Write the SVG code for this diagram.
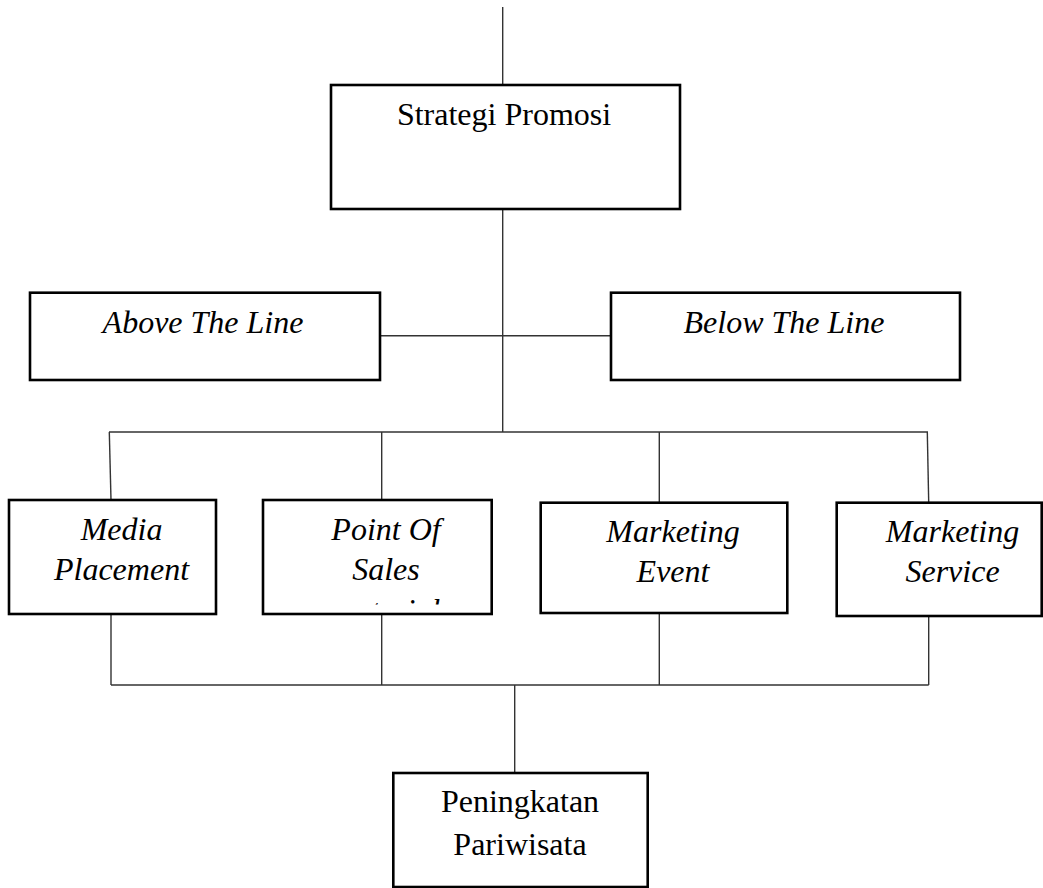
<svg xmlns="http://www.w3.org/2000/svg" width="1043" height="888" viewBox="0 0 1043 888">
<style>
.box{fill:#fff;stroke:#000;stroke-width:2.6}
.ln{fill:none;stroke:#333;stroke-width:1.4}
.t{font-family:"Liberation Serif","Times New Roman",serif;font-size:32px;fill:#000;text-anchor:middle}
.i{font-style:italic}
</style>
<defs>
<clipPath id="posclip"><rect x="263" y="500" width="229" height="104.5"/></clipPath>
</defs>
<rect width="1043" height="888" fill="#fff"/>
<g id="connectors">
<line class="ln" x1="502.7" y1="7" x2="502.7" y2="85"/>
<line class="ln" x1="502.7" y1="209" x2="502.7" y2="432"/>
<line class="ln" x1="380" y1="335.7" x2="611" y2="335.7"/>
<line class="ln" x1="109" y1="432" x2="928" y2="432"/>
<line class="ln" x1="109.3" y1="432" x2="111" y2="500"/>
<line class="ln" x1="381.7" y1="432" x2="381.7" y2="500"/>
<line class="ln" x1="659.3" y1="432" x2="659.3" y2="502"/>
<line class="ln" x1="927.3" y1="432" x2="928.7" y2="502"/>
<line class="ln" x1="111" y1="614" x2="111" y2="685"/>
<line class="ln" x1="381.7" y1="614" x2="381.7" y2="685"/>
<line class="ln" x1="659.3" y1="614" x2="659.3" y2="685"/>
<line class="ln" x1="928.7" y1="613" x2="928.7" y2="685"/>
<line class="ln" x1="111" y1="685" x2="928.7" y2="685"/>
<line class="ln" x1="514.7" y1="685" x2="514.7" y2="773"/>
</g>
<g id="strategi">
<rect class="box" x="331" y="85" width="349" height="124"/>
<text class="t" x="504" y="125">Strategi Promosi</text>
</g>
<g id="above">
<rect class="box" x="30" y="292.7" width="350" height="87.3"/>
<text class="t i" x="203" y="333">Above The Line</text>
</g>
<g id="below">
<rect class="box" x="611" y="292.7" width="349" height="87.3"/>
<text class="t i" x="784" y="333">Below The Line</text>
</g>
<g id="media">
<rect class="box" x="9" y="500" width="207" height="114"/>
<text class="t i" x="121.5" y="540">Media</text>
<text class="t i" x="121.5" y="580">Placement</text>
</g>
<g id="pos">
<rect class="box" x="263" y="500" width="228.7" height="114"/>
<text class="t i" x="386" y="540">Point Of</text>
<text class="t i" x="386" y="580">Sales</text>
<text class="t i" x="386" y="621" clip-path="url(#posclip)">material</text>
</g>
<g id="event">
<rect class="box" x="540.7" y="502.7" width="246.6" height="110.3"/>
<text class="t i" x="673" y="542">Marketing</text>
<text class="t i" x="673" y="582">Event</text>
</g>
<g id="service">
<rect class="box" x="836.7" y="502.7" width="205" height="113.3"/>
<text class="t i" x="952.5" y="542">Marketing</text>
<text class="t i" x="952.5" y="582">Service</text>
</g>
<g id="peningkatan">
<rect class="box" x="393.3" y="773" width="254.4" height="114"/>
<text class="t" x="520" y="812">Peningkatan</text>
<text class="t" x="520" y="855">Pariwisata</text>
</g>
</svg>
